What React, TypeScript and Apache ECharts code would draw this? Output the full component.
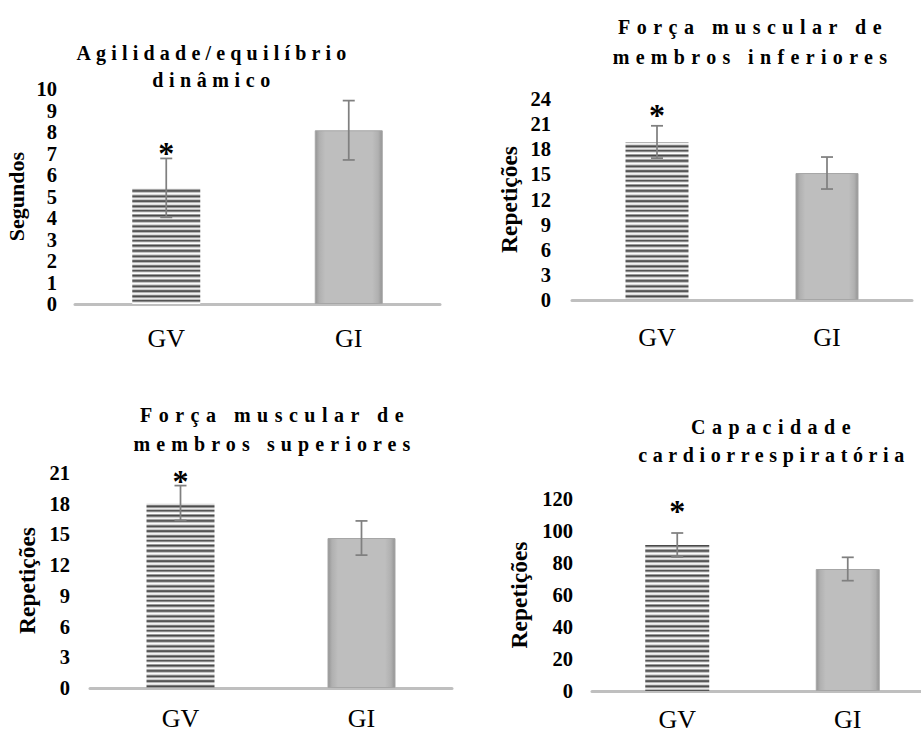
import React, { useEffect, useRef } from 'react';
import * as echarts from 'echarts';

// ---------- data ----------
const categories = ['GV', 'GI'];

const panelTitles = [
  'Agilidade/equilíbrio\ndinâmico',
  'Força muscular de\nmembros inferiores',
  'Força muscular de\nmembros superiores',
  'Capacidade\ncardiorrespiratória',
];
const yAxisNames = ['Segundos', 'Repetições', 'Repetições', 'Repetições'];

const agilityMeans = [5.4, 8.08];
const agilitySD = [1.37, 1.38];
const lowerLimbMeans = [18.87, 15.16];
const lowerLimbSD = [1.93, 1.91];
const upperLimbMeans = [18.07, 14.65];
const upperLimbSD = [1.7, 1.67];
const cardioMeans = [91.25, 76.25];
const cardioSD = [7.5, 7.3];

const yAxisMax = [10, 24, 21, 120];
const yAxisInterval = [1, 3, 3, 20];

const significanceMark = '*';
const significanceY = [7.16, 22.4, 20.5, 114.2];

const means = [agilityMeans, lowerLimbMeans, upperLimbMeans, cardioMeans];
const sds = [agilitySD, lowerLimbSD, upperLimbSD, cardioSD];

// ---------- style / layout ----------
const FONT = '"Liberation Serif", "Times New Roman", Times, serif';

const layout = [
  { left: 75, right: 440, top: 89, base: 304, barWidth: 68, tickMargin: 18, nameGap: 48, nameSize: 22, catMargin: 25, titleX: 212, titleY: 66, titleLH: 27 },
  { left: 572, right: 912, top: 99, base: 300, barWidth: 63, tickMargin: 21, nameGap: 51, nameSize: 23.5, catMargin: 28, titleX: 751, titleY: 42, titleLH: 30 },
  { left: 90, right: 452, top: 473, base: 688, barWidth: 68, tickMargin: 20, nameGap: 51, nameSize: 23.5, catMargin: 21, titleX: 273, titleY: 429.5, titleLH: 28.3 },
  { left: 592, right: 933, top: 499, base: 691, barWidth: 64, tickMargin: 19, nameGap: 61, nameSize: 23.5, catMargin: 19, titleX: 772, titleY: 441, titleLH: 28.3 },
];

const letterSpacingByLine: Record<string, number> = {
  'Agilidade/equilíbrio': 5.2,
  'dinâmico': 5.6,
  'Força muscular de': 6.5,
  'membros inferiores': 6.35,
  'membros superiores': 6.1,
  'Capacidade': 6.5,
  'cardiorrespiratória': 5.6,
};

const stripeRows = [
  '#555555', '#8a8a8a', '#e4e4e4', '#ffffff', '#9c9c9c', '#4a4a4a', '#7d7d7d', '#d0d0d0',
  '#f4f4f4', '#a5a5a5', '#5a5a5a', '#6a6a6a', '#c4c4c4', '#fafafa', '#d8d8d8', '#808080',
  '#505050', '#a0a0a0', '#eaeaea', '#c8c8c8', '#646464', '#565656', '#b4b4b4', '#f2f2f2',
  '#dedede', '#7a7a7a', '#4c4c4c', '#9a9a9a', '#e6e6e6', '#bcbcbc',
];

function makeStripes(): any {
  const c = document.createElement('canvas');
  c.width = 4;
  c.height = stripeRows.length;
  const ctx = c.getContext('2d')!;
  stripeRows.forEach((col, i) => {
    ctx.fillStyle = col;
    ctx.fillRect(0, i, 4, 1);
  });
  return { image: c.toDataURL(), repeat: 'repeat', imageWidth: 4, imageHeight: stripeRows.length };
}

const giGradient = new echarts.graphic.LinearGradient(0, 0, 1, 0, [
  { offset: 0, color: '#949494' },
  { offset: 0.06, color: '#b0b0b0' },
  { offset: 0.15, color: '#bebebe' },
  { offset: 0.85, color: '#bebebe' },
  { offset: 0.94, color: '#b0b0b0' },
  { offset: 1, color: '#949494' },
]);

export default function App() {
  const ref = useRef<HTMLDivElement>(null);

  useEffect(() => {
    if (!ref.current) return;
    const el = ref.current;
    const chart = echarts.init(el, undefined, { renderer: 'svg' });
    const stripes = makeStripes();

    const grid: any[] = [];
    const xAxis: any[] = [];
    const yAxis: any[] = [];
    const series: any[] = [];
    const graphic: any[] = [];

    layout.forEach((p, i) => {
      grid.push({
        left: p.left,
        top: p.top,
        width: p.right - p.left,
        height: p.base - p.top,
        containLabel: false,
        outerBoundsMode: 'none',
      });
      xAxis.push({
        type: 'category',
        gridIndex: i,
        data: categories,
        axisLine: { show: true, lineStyle: { color: '#bfbfbf', width: 3 } },
        axisTick: { show: false },
        axisLabel: { margin: p.catMargin, fontSize: 26, lineHeight: 18, fontFamily: FONT, color: '#000' },
        splitLine: { show: false },
      });
      yAxis.push({
        type: 'value',
        gridIndex: i,
        min: 0,
        max: yAxisMax[i],
        interval: yAxisInterval[i],
        axisLine: { show: false },
        axisTick: { show: false },
        splitLine: { show: false },
        axisLabel: { margin: p.tickMargin, fontSize: 20.5, lineHeight: 18, fontWeight: 'bold', fontFamily: FONT, color: '#000' },
        name: yAxisNames[i],
        nameLocation: 'middle',
        nameGap: p.nameGap,
        nameTextStyle: { fontSize: p.nameSize, fontWeight: 'bold', fontFamily: FONT, color: '#000' },
      });
      series.push({
        type: 'bar',
        xAxisIndex: i,
        yAxisIndex: i,
        barWidth: p.barWidth,
        silent: true,
        data: means[i].map((v, j) => ({
          value: v,
          itemStyle: j === 0
            ? { color: stripes }
            : { color: giGradient, borderColor: '#a6a6a6', borderWidth: 1 },
        })),
      });
      series.push({
        type: 'custom',
        xAxisIndex: i,
        yAxisIndex: i,
        silent: true,
        z: 10,
        data: means[i].map((m, j) => [j, m - sds[i][j], m + sds[i][j]]),
        encode: { x: 0, y: [1, 2] },
        renderItem: (params: any, api: any) => {
          const x = api.value(0);
          const lo = api.coord([x, api.value(1)]);
          const hi = api.coord([x, api.value(2)]);
          const hw = 6;
          const style = { stroke: '#808080', lineWidth: 1.75 };
          return {
            type: 'group',
            children: [
              { type: 'line', shape: { x1: lo[0], y1: lo[1], x2: hi[0], y2: hi[1] }, style },
              { type: 'line', shape: { x1: lo[0] - hw, y1: lo[1], x2: lo[0] + hw, y2: lo[1] }, style },
              { type: 'line', shape: { x1: hi[0] - hw, y1: hi[1], x2: hi[0] + hw, y2: hi[1] }, style },
            ],
          };
        },
      });
      series.push({
        type: 'custom',
        xAxisIndex: i,
        yAxisIndex: i,
        silent: true,
        z: 11,
        data: [[0, significanceY[i]]],
        renderItem: (params: any, api: any) => {
          const pt = api.coord([api.value(0), api.value(1)]);
          return {
            type: 'text',
            x: pt[0],
            y: pt[1] + 3,
            style: {
              text: significanceMark,
              fontSize: 32,
              fontWeight: 'bold',
              fontFamily: FONT,
              fill: '#000',
              align: 'center',
              verticalAlign: 'middle',
            },
          };
        },
      });
      graphic.push({
        type: 'text',
        x: p.titleX + 2,
        y: p.titleY,
        silent: true,
        style: {
          text: panelTitles[i],
          fontSize: 20,
          fontWeight: 'bold',
          fontFamily: FONT,
          fill: '#000',
          align: 'center',
          verticalAlign: 'middle',
          lineHeight: p.titleLH,
        },
      });
    });

    chart.setOption({
      animation: false,
      backgroundColor: '#ffffff',
      tooltip: { show: false },
      grid,
      xAxis,
      yAxis,
      series,
      graphic,
    });

    const applySpacing = () => {
      el.querySelectorAll('text').forEach((t) => {
        const s = letterSpacingByLine[(t.textContent || '').trim()];
        if (s != null) (t as any).style.letterSpacing = s + 'px';
      });
    };
    applySpacing();
    chart.on('finished', applySpacing);
    const timer = setTimeout(applySpacing, 50);

    return () => {
      clearTimeout(timer);
      chart.dispose();
    };
  }, []);

  return (
    <div
      ref={ref}
      style={{ position: 'absolute', left: 0, top: 0, width: 921, height: 733, background: '#fff' }}
    />
  );
}
